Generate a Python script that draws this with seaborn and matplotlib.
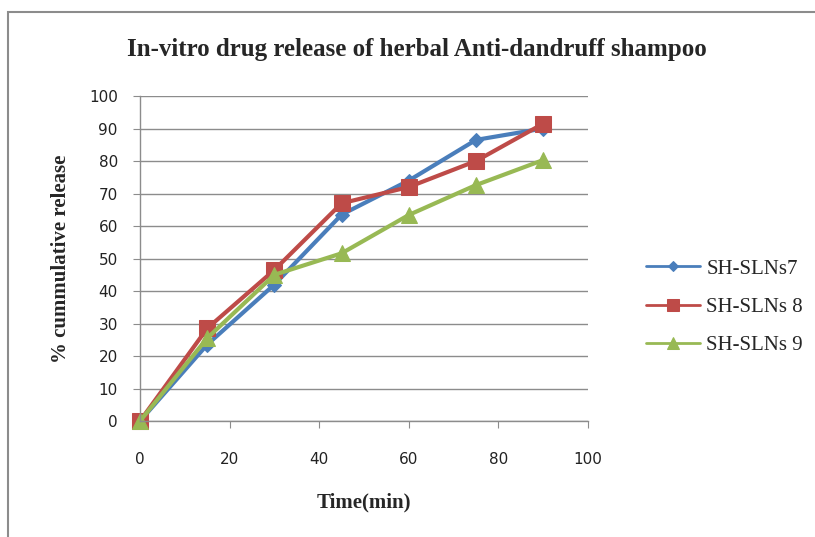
import numpy as np
import pandas as pd
import matplotlib
matplotlib.use('Agg')
import matplotlib.pyplot as plt
import seaborn as sns
from matplotlib.patches import Rectangle

# data
time_min = [0, 15, 30, 45, 60, 75, 90]
sln7 = [0, 23.5, 42, 63.5, 74, 86.5, 90]
sln8 = [0, 28.5, 46.5, 67, 72, 80, 91.5]
sln9 = [0, 25.5, 45, 51.6, 63.4, 72.6, 80.3]
series_names = ['SH-SLNs7', 'SH-SLNs 8', 'SH-SLNs 9']
x_ticks = [0, 20, 40, 60, 80, 100]
y_ticks = list(range(0, 101, 10))

sns.set_style('white')
plt.rcParams['font.family'] = ['Liberation Serif', 'DejaVu Serif']

fig = plt.figure(figsize=(8.15, 5.37), dpi=100)
ax = fig.add_axes([0.1718, 0.216, 0.5497, 0.6052])

# outer chart border like the Excel chart area
fig.patches.append(Rectangle((8 / 815, -0.1), 1.2, 1.1 - 12 / 537,
                             transform=fig.transFigure, fill=False,
                             edgecolor='#8c8c8c', linewidth=1.5))

colors = ['#4A7EBB', '#BE4B48', '#98B954']
markers = ['D', 's', '^']
msizes = [7, 11, 11]
leg_ms = [5, 8, 8]
for vals, name, c, m, ms in zip([sln7, sln8, sln9], series_names, colors, markers, msizes):
    sns.lineplot(x=time_min, y=vals, ax=ax, color=c, marker=m, markersize=ms,
                 markeredgecolor=c, linewidth=3, label=name, clip_on=False)

ax.set_xlim(0, 100)
ax.set_ylim(0, 100)
ax.set_xticks(x_ticks)
ax.set_yticks(y_ticks)
ax.yaxis.grid(True, color='#8c8c8c', linewidth=1)
ax.xaxis.grid(False)
for s in ['top', 'right']:
    ax.spines[s].set_visible(False)
for s in ['left', 'bottom']:
    ax.spines[s].set_color('#8c8c8c')
    ax.spines[s].set_linewidth(1)
ax.tick_params(axis='both', which='major', direction='out', length=5,
               color='#8c8c8c', labelsize=11, labelcolor='#222222',
               bottom=True, left=True)
ax.tick_params(axis='y', pad=11)
ax.tick_params(axis='x', pad=17)
for lab in ax.get_xticklabels() + ax.get_yticklabels():
    lab.set_family('DejaVu Sans')

ax.set_xlabel('Time(min)', fontsize=15, fontweight='bold', labelpad=19)
ax.set_ylabel('% cummulative release', fontsize=15, fontweight='bold', labelpad=13)
fig.text(0.512, 0.907, 'In-vitro drug release of herbal Anti-dandruff shampoo',
         ha='center', va='center', fontsize=18, fontweight='bold')

leg = ax.legend(loc='center left', bbox_to_anchor=(1.087, 0.35), frameon=False,
                fontsize=15, labelspacing=0.9, handlelength=2.6, handletextpad=0.3)
for h, ms in zip(leg.legend_handles, leg_ms):
    h.set_markersize(ms)
    h.set_linewidth(2)

fig.savefig('out.png', dpi=100)
